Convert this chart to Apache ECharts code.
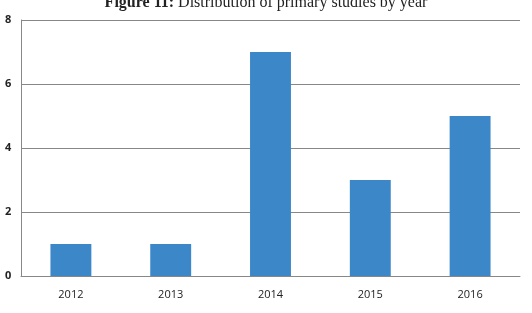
<!DOCTYPE html>
<html>
<head>
<meta charset="utf-8">
<script src="https://cdn.jsdelivr.net/npm/echarts@6/dist/echarts.min.js"></script>
<style>
  html, body { margin: 0; padding: 0; background: #fff; }
  #chart { width: 532px; height: 313px; }
</style>
</head>
<body>
<div id="chart"></div>
<script>
// studies per year
var years = ['2012', '2013', '2014', '2015', '2016'];
var studies = [1, 1, 7, 3, 5];
var yTicks = [0, 2, 4, 6, 8];

var chart = echarts.init(document.getElementById('chart'));
chart.setOption({
    animation: false,
    title: {
        text: '{b|Figure 11:} Distribution of primary studies by year',
        left: 'center',
        top: -10,
        textStyle: {
            fontFamily: 'Liberation Serif',
            fontSize: 16,
            fontWeight: 'normal',
            color: '#222',
            rich: {
                b: { fontFamily: 'Liberation Serif', fontSize: 16, fontWeight: 'bold', color: '#222' }
            }
        }
    },
    grid: { left: 21, right: 12, top: 20, bottom: 37, outerBoundsMode: 'none', containLabel: false },
    xAxis: {
        type: 'category',
        data: years,
        axisTick: { show: false },
        axisLine: { lineStyle: { color: '#888', width: 1 } },
        axisLabel: {
            margin: 13,
            fontFamily: 'Open Sans',
            fontSize: 11,
            color: '#222'
        }
    },
    yAxis: {
        type: 'value',
        min: yTicks[0],
        max: yTicks[yTicks.length - 1],
        interval: 2,
        axisLine: { show: true, lineStyle: { color: '#888' } },
        axisTick: { show: false },
        splitLine: { lineStyle: { color: '#888' } },
        axisLabel: {
            margin: 16,
            align: 'left',
            fontFamily: 'Open Sans',
            fontSize: 11,
            fontWeight: 'bold',
            color: '#222'
        }
    },
    series: [{
        type: 'bar',
        data: studies,
        barWidth: '41%',
        itemStyle: { color: '#3c87c8' }
    }]
});
</script>
</body>
</html>
